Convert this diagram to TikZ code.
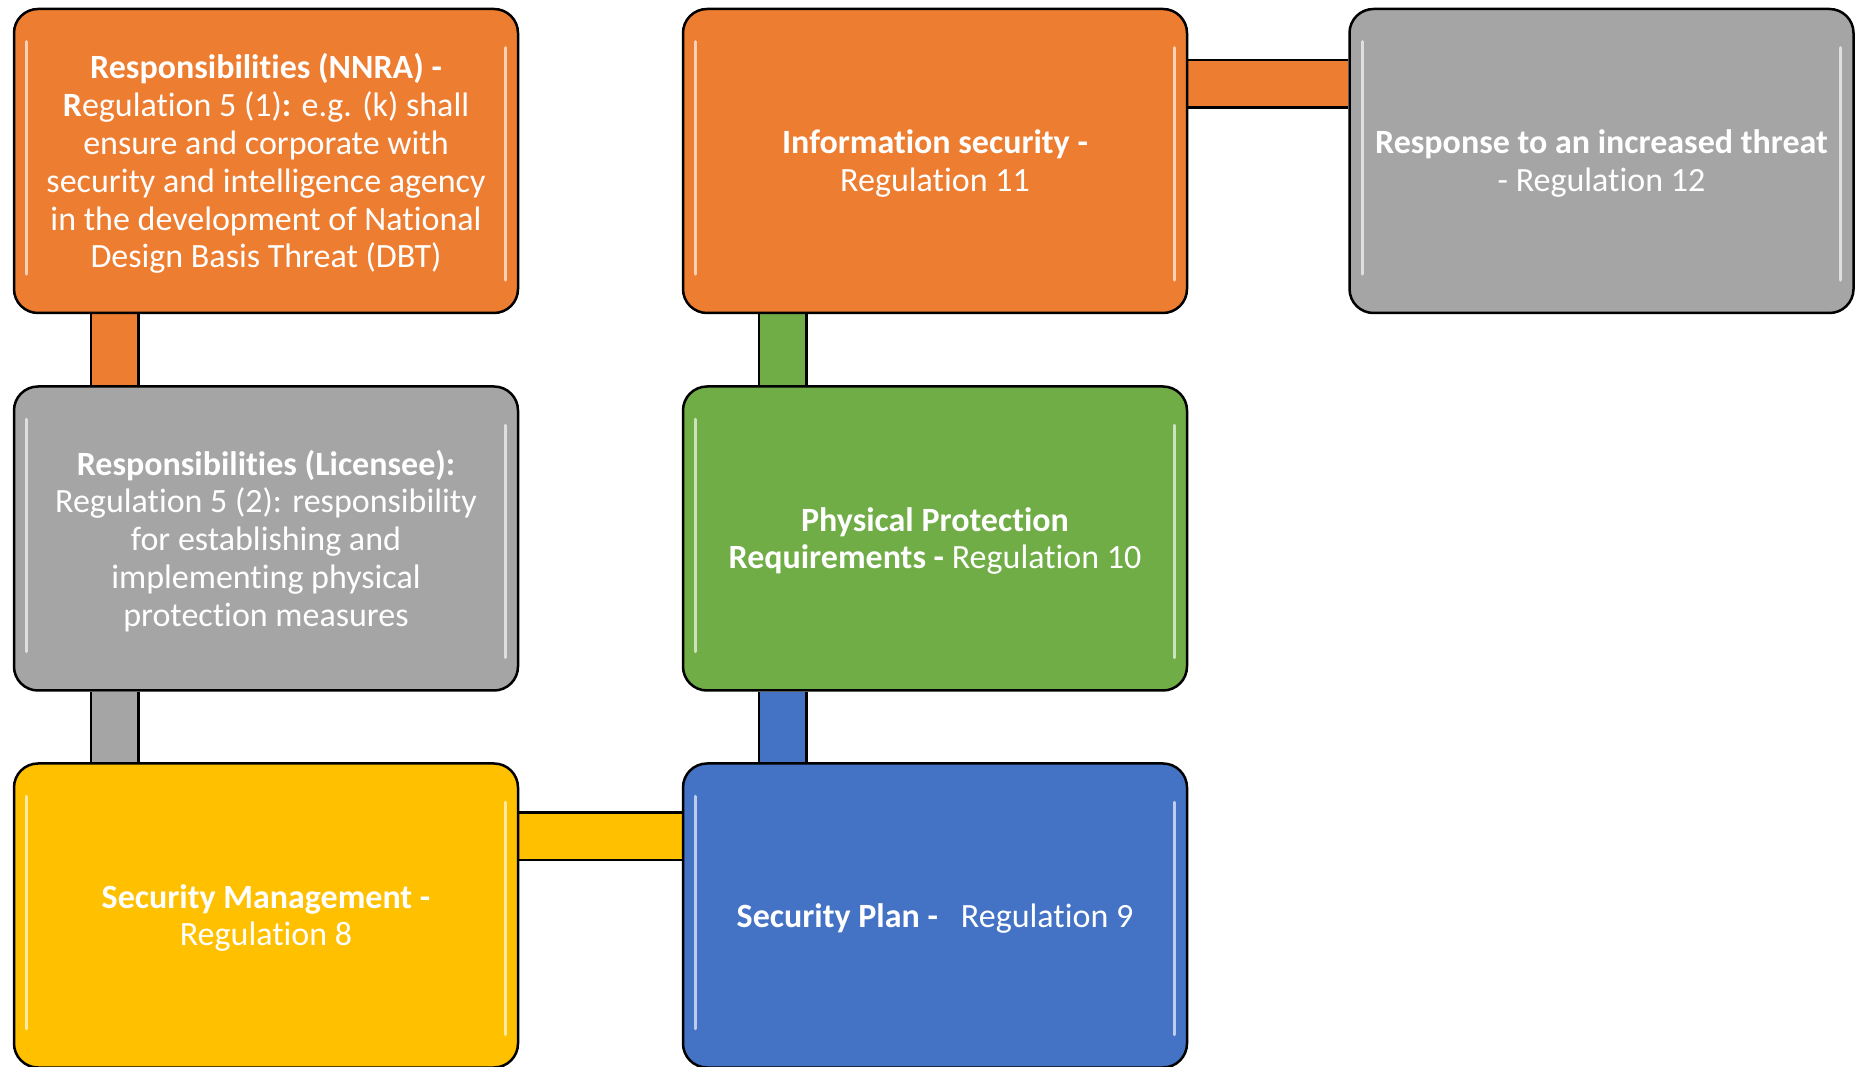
\documentclass[tikz,border=0pt]{standalone}
\usepackage{fontspec}
\setmainfont{Carlito}[Ligatures=NoCommon]
\pgfdeclarelayer{background}
\pgfsetlayers{background,main}
\definecolor{cOrange}{HTML}{ED7D31}
\definecolor{cGray}{HTML}{A5A5A5}
\definecolor{cYellow}{HTML}{FFC000}
\definecolor{cBlue}{HTML}{4472C4}
\definecolor{cGreen}{HTML}{70AD47}
\tikzset{
  box/.style={rectangle, rounded corners=24pt, draw=black, line width=2.5pt,
    fill=#1, minimum width=504pt, minimum height=304pt, inner sep=0pt},
  boxtext/.style={text=white, align=center, inner sep=0pt, yshift=-2.5pt,
    font=\fontsize{34}{37.9}\selectfont},
  conn/.style={draw=black, line width=2.5pt, double=#1, double distance=45pt},
  hl/.style={draw=white, opacity=0.65, line width=3pt, line cap=round}
}
\begin{document}
\begin{tikzpicture}[x=1pt,y=1pt]
\useasboundingbox (0,0) rectangle (1855,1066);
% boxes
\node[box=cOrange] (nnra) at (266,905)    {};
\node[box=cOrange] (info) at (935,905)    {};
\node[box=cGray]   (resp) at (1601.5,905) {};
\node[box=cGray]   (lic)  at (266,527.5)  {};
\node[box=cGreen]  (phys) at (935,527.5)  {};
\node[box=cYellow] (mgmt) at (266,150.5)  {};
\node[box=cBlue]   (plan) at (935,150.5)  {};
% connectors behind the boxes
\begin{pgfonlayer}{background}
\draw[conn=cOrange] ([xshift=102pt]nnra.south west) -- ([xshift=102pt]lic.north west);
\draw[conn=cGray]   ([xshift=102pt]lic.south west) -- ([xshift=102pt]mgmt.north west);
\draw[conn=cYellow] ([yshift=-74pt]mgmt.north east) -- ([yshift=-74pt]plan.north west);
\draw[conn=cBlue]   ([xshift=101pt]plan.north west) -- ([xshift=101pt]phys.south west);
\draw[conn=cGreen]  ([xshift=101pt]phys.north west) -- ([xshift=101pt]info.south west);
\draw[conn=cOrange] ([yshift=-76pt]info.north east) -- ([yshift=-76pt]resp.north west);
\end{pgfonlayer}
% texts
\node[boxtext] (t1) at (nnra) {\textbf{Responsibilities (NNRA) -}\\\textbf{R}egulation 5 (1)\textbf{:} e.g. (k) shall\\ensure and corporate with\\security and intelligence agency\\in the development of National\\Design Basis Threat (DBT)};
\node[boxtext] (t2) at (info) {\textbf{Information security -}\\Regulation 11};
\node[boxtext] (t3) at (resp) {\textbf{Response to an increased threat}\\- Regulation 12};
\node[boxtext] (t4) at (lic) {\textbf{Responsibilities (Licensee):}\\Regulation 5 (2): responsibility\\for establishing and\\implementing physical\\protection measures};
\node[boxtext] (t5) at (phys) {\textbf{Physical Protection}\\\textbf{Requirements -} Regulation 10};
\node[boxtext] (t6) at (mgmt) {\textbf{Security Management -}\\Regulation 8};
\node[boxtext] (t7) at (plan) {\textbf{Security Plan -}\ \ \ Regulation 9};
% glossy highlights
\foreach \n in {nnra,info,resp,lic,phys,mgmt,plan}{
  \draw[hl] ([xshift=14pt,yshift=-34pt]\n.north west) -- ([xshift=14pt,yshift=40pt]\n.south west);
  \draw[hl] ([xshift=-14pt,yshift=-40pt]\n.north east) -- ([xshift=-14pt,yshift=34pt]\n.south east);
}
\end{tikzpicture}
\end{document}
